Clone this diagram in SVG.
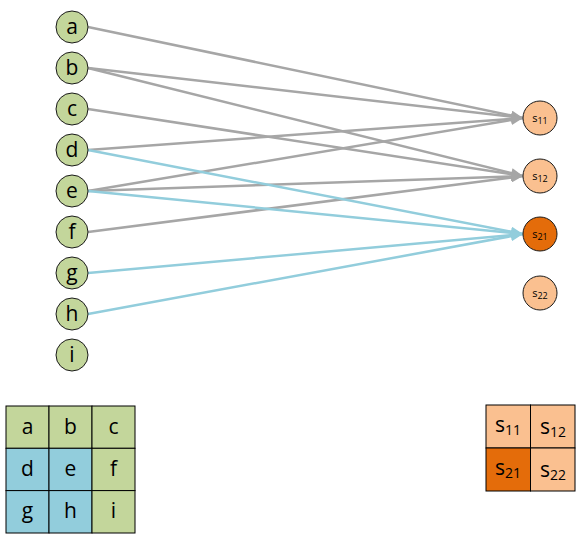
<svg xmlns="http://www.w3.org/2000/svg" width="585" height="538" viewBox="0 0 585 538">
<style>
.ln{fill:#C3D69B;stroke:#1a1a1a;stroke-width:1}
.rn{fill:#FAC090;stroke:#1a1a1a;stroke-width:1}
.rd{fill:#E46C0A;stroke:#1a1a1a;stroke-width:1}
.t{font-family:"Open Sans","Liberation Sans",sans-serif;font-size:21px;fill:#000;text-anchor:middle}
.ts{font-family:"Open Sans","Liberation Sans",sans-serif;font-size:11px;fill:#000;text-anchor:middle}
.g{stroke:#A6A6A6;stroke-width:2.5;fill:none;marker-end:url(#ag)}
.b{stroke:#92CDDC;stroke-width:2.5;fill:none;marker-end:url(#ab)}
.cg{fill:#C3D69B;stroke:#000;stroke-width:1}
.cb{fill:#92CDDC;stroke:#000;stroke-width:1}
.cp{fill:#FAC090;stroke:#000;stroke-width:1}
.co{fill:#E46C0A;stroke:#000;stroke-width:1}
.gt{font-family:"Open Sans","Liberation Sans",sans-serif;font-size:21px;fill:#000;text-anchor:middle}
</style>
<defs>
<marker id="ag" markerUnits="userSpaceOnUse" markerWidth="12" markerHeight="10" refX="12" refY="5" orient="auto"><path d="M0,0 L12,5 L0,10 z" fill="#A6A6A6"/></marker>
<marker id="ab" markerUnits="userSpaceOnUse" markerWidth="12" markerHeight="10" refX="12" refY="5" orient="auto"><path d="M0,0 L12,5 L0,10 z" fill="#92CDDC"/></marker>
</defs>
<g id="connectors">
<line class="g" x1="88" y1="27" x2="523" y2="118"/>
<line class="g" x1="88" y1="68" x2="523" y2="118"/>
<line class="g" x1="88" y1="68" x2="523" y2="176"/>
<line class="g" x1="88" y1="109" x2="523" y2="176"/>
<line class="g" x1="88" y1="150" x2="523" y2="118"/>
<line class="g" x1="88" y1="191" x2="523" y2="118"/>
<line class="g" x1="88" y1="191" x2="523" y2="176"/>
<line class="g" x1="88" y1="232" x2="523" y2="176"/>
<line class="b" x1="88" y1="150" x2="523" y2="234"/>
<line class="b" x1="88" y1="191" x2="523" y2="234"/>
<line class="b" x1="88" y1="273" x2="523" y2="234"/>
<line class="b" x1="88" y1="314" x2="523" y2="234"/>
</g>
<g id="node-a"><circle class="ln" cx="72" cy="27" r="16"/><text class="t" x="72" y="34">a</text></g>
<g id="node-b"><circle class="ln" cx="72" cy="68" r="16"/><text class="t" x="72" y="75">b</text></g>
<g id="node-c"><circle class="ln" cx="72" cy="109" r="16"/><text class="t" x="72" y="116">c</text></g>
<g id="node-d"><circle class="ln" cx="72" cy="150" r="16"/><text class="t" x="72" y="157">d</text></g>
<g id="node-e"><circle class="ln" cx="72" cy="191" r="16"/><text class="t" x="72" y="198">e</text></g>
<g id="node-f"><circle class="ln" cx="72" cy="232" r="16"/><text class="t" x="72" y="239">f</text></g>
<g id="node-g"><circle class="ln" cx="72" cy="273" r="16"/><text class="t" x="72" y="280">g</text></g>
<g id="node-h"><circle class="ln" cx="72" cy="314" r="16"/><text class="t" x="72" y="321">h</text></g>
<g id="node-i"><circle class="ln" cx="72" cy="355" r="16"/><text class="t" x="72" y="362">i</text></g>
<g id="node-s11"><circle class="rn" cx="540" cy="118" r="17"/><text class="ts" x="540" y="122">s<tspan font-size="9" dy="2">11</tspan></text></g>
<g id="node-s12"><circle class="rn" cx="540" cy="176" r="17"/><text class="ts" x="540" y="180">s<tspan font-size="9" dy="2">12</tspan></text></g>
<g id="node-s21"><circle class="rd" cx="540" cy="234" r="17"/><text class="ts" x="540" y="238">s<tspan font-size="9" dy="2">21</tspan></text></g>
<g id="node-s22"><circle class="rn" cx="540" cy="293" r="17"/><text class="ts" x="540" y="297">s<tspan font-size="9" dy="2">22</tspan></text></g>
<g id="grid-left">
<rect class="cg" x="6" y="406" width="43" height="42.3"/>
<rect class="cg" x="49" y="406" width="43" height="42.3"/>
<rect class="cg" x="92" y="406" width="43" height="42.3"/>
<rect class="cb" x="6" y="448.3" width="43" height="42.3"/>
<rect class="cb" x="49" y="448.3" width="43" height="42.3"/>
<rect class="cg" x="92" y="448.3" width="43" height="42.3"/>
<rect class="cb" x="6" y="490.6" width="43" height="42.4"/>
<rect class="cb" x="49" y="490.6" width="43" height="42.4"/>
<rect class="cg" x="92" y="490.6" width="43" height="42.4"/>
<text class="gt" x="27.5" y="434">a</text>
<text class="gt" x="70.5" y="434">b</text>
<text class="gt" x="113.5" y="434">c</text>
<text class="gt" x="27.5" y="476">d</text>
<text class="gt" x="70.5" y="476">e</text>
<text class="gt" x="113.5" y="476">f</text>
<text class="gt" x="27.5" y="518">g</text>
<text class="gt" x="70.5" y="518">h</text>
<text class="gt" x="113.5" y="518">i</text>
</g>
<g id="grid-right">
<rect class="cp" x="486" y="405" width="44.5" height="43"/>
<rect class="cp" x="530.5" y="405" width="44.5" height="43"/>
<rect class="co" x="486" y="448" width="44.5" height="43"/>
<rect class="cp" x="530.5" y="448" width="44.5" height="43"/>
<text class="gt" x="508" y="432" font-size="18">s<tspan font-size="14" dy="3">11</tspan></text>
<text class="gt" x="553" y="434" font-size="18">s<tspan font-size="14" dy="3">12</tspan></text>
<text class="gt" x="508" y="475" font-size="18">s<tspan font-size="14" dy="3">21</tspan></text>
<text class="gt" x="553" y="477" font-size="18">s<tspan font-size="14" dy="3">22</tspan></text>
</g>
</svg>
